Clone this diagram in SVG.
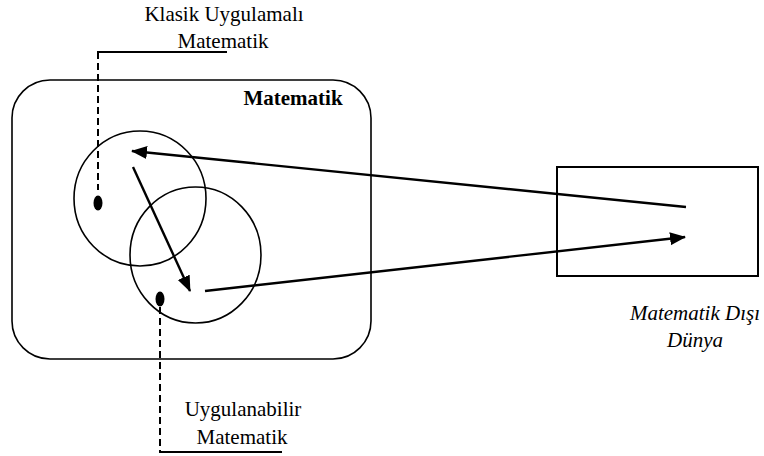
<svg xmlns="http://www.w3.org/2000/svg" width="764" height="456" viewBox="0 0 764 456">
<style>
.t{font-family:"Liberation Serif","Times New Roman",serif;font-size:21px;fill:#000}
.b{font-weight:bold}
.i{font-style:italic}
.sh{fill:none;stroke:#000;stroke-width:1.6}
.dash{fill:none;stroke:#000;stroke-width:2;stroke-dasharray:7 4}
.ln{fill:none;stroke:#000;stroke-width:2}
.arr{fill:none;stroke:#000;stroke-width:2.4;marker-end:url(#ah)}
.dot{fill:#000}
</style>
<defs>
<marker id="ah" markerUnits="userSpaceOnUse" markerWidth="16" markerHeight="14" refX="15" refY="6.5" orient="auto" viewBox="0 0 16 13">
<path d="M0,0 L16,6.5 L0,13 z" fill="#000"/>
</marker>
</defs>
<rect width="764" height="456" fill="#fff"/>
<g id="matematik">
<rect class="sh" x="12" y="80" width="359" height="279" rx="38" ry="38"/>
<text class="t b" x="293" y="105" text-anchor="middle">Matematik</text>
</g>
<g id="klasik-circle">
<ellipse class="sh" cx="140" cy="198.5" rx="66" ry="67.5"/>
<ellipse class="dot" cx="98" cy="203" rx="4.5" ry="7.5"/>
</g>
<g id="uygulanabilir-circle">
<ellipse class="sh" cx="195.5" cy="255" rx="65.5" ry="68"/>
<ellipse class="dot" cx="160" cy="299" rx="4.5" ry="7.5"/>
</g>
<g id="dis-dunya">
<rect class="ln" x="557" y="167" width="201" height="109"/>
<text class="t i" x="695" y="320" text-anchor="middle">Matematik Dışı</text>
<text class="t i" x="695" y="347" text-anchor="middle">Dünya</text>
</g>
<g id="klasik-label">
<text class="t" x="224" y="21" text-anchor="middle">Klasik Uygulamalı</text>
<text class="t" x="223" y="47.5" text-anchor="middle">Matematik</text>
</g>
<g id="uygulanabilir-label">
<text class="t" x="243" y="416" text-anchor="middle">Uygulanabilir</text>
<text class="t" x="242" y="444" text-anchor="middle">Matematik</text>
</g>
<g id="connectors">
<line class="ln" x1="97" y1="52" x2="227" y2="52"/>
<line class="dash" x1="98" y1="52" x2="98" y2="190"/>
<line class="dash" x1="160" y1="307" x2="160" y2="452"/>
<line class="ln" x1="159" y1="452" x2="282" y2="452"/>
<line class="arr" x1="686" y1="207" x2="132" y2="151"/>
<line class="arr" x1="205" y1="291" x2="685" y2="237"/>
<line class="arr" x1="133" y1="167" x2="190" y2="291"/>
</g>
</svg>
